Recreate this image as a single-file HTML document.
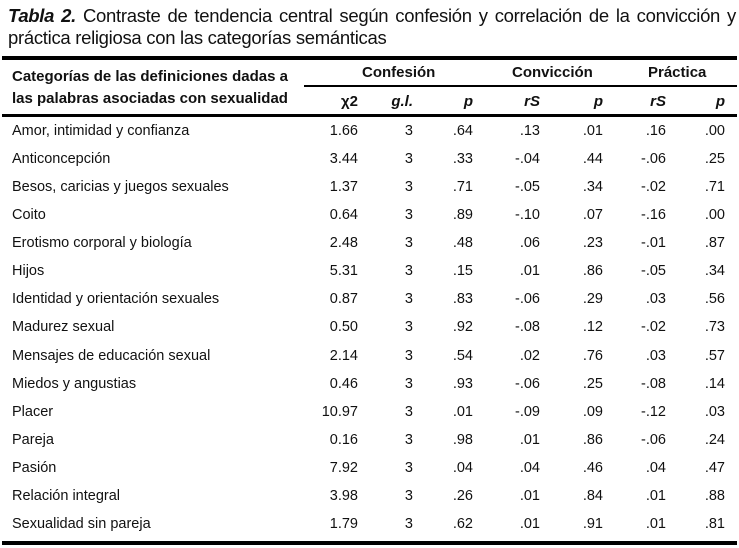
<!DOCTYPE html>
<html><head><meta charset="utf-8"><style>
body{margin:0;width:739px;height:548px;background:#fff;font-family:"Liberation Sans",sans-serif;color:#111;position:relative;overflow:hidden}
.t{position:absolute;left:8px;width:728px;font-size:18.5px;line-height:22px;text-align:justify;text-align-last:left;top:5px;letter-spacing:-0.3px}
.rule{position:absolute;background:#000}
.a{position:absolute;white-space:nowrap;font-size:14.5px;line-height:18px}
.r{text-align:right}
.h{font-weight:bold;font-size:15px}
</style></head><body>
<div class="t"><b><i>Tabla 2.</i></b> Contraste de tendencia central según confesión y correlación de la convicción y práctica religiosa con las categorías semánticas</div>
<div class="rule" style="left:2px;top:56px;width:735px;height:4px"></div>
<div class="rule" style="left:304px;top:85px;width:433px;height:2px"></div>
<div class="rule" style="left:2px;top:114px;width:735px;height:3px"></div>
<div class="rule" style="left:2px;top:541px;width:735px;height:4px"></div>
<div class="a h" style="left:12px;top:68px">Categorías de las definiciones dadas a</div>
<div class="a h" style="left:12px;top:90px">las palabras asociadas con sexualidad</div>
<div class="a h" style="left:362px;top:64px">Confesión</div>
<div class="a h" style="left:512px;top:64px">Convicción</div>
<div class="a h" style="left:648px;top:64px">Práctica</div>
<div id="rows"></div>
<script>
var R=[358,413,473,540,603,666,725];
var H=["χ2","<i>g.l.</i>","<i>p</i>","<i>rS</i>","<i>p</i>","<i>rS</i>","<i>p</i>"];
var s="";
H.forEach(function(h,i){s+='<div class="a h r" style="right:'+(739-R[i])+'px;top:93px">'+h+'</div>';});
var D=[["Amor, intimidad y confianza","1.66","3",".64",".13",".01",".16",".00"],
["Anticoncepción","3.44","3",".33","-.04",".44","-.06",".25"],
["Besos, caricias y juegos sexuales","1.37","3",".71","-.05",".34","-.02",".71"],
["Coito","0.64","3",".89","-.10",".07","-.16",".00"],
["Erotismo corporal y biología","2.48","3",".48",".06",".23","-.01",".87"],
["Hijos","5.31","3",".15",".01",".86","-.05",".34"],
["Identidad y orientación sexuales","0.87","3",".83","-.06",".29",".03",".56"],
["Madurez sexual","0.50","3",".92","-.08",".12","-.02",".73"],
["Mensajes de educación sexual","2.14","3",".54",".02",".76",".03",".57"],
["Miedos y angustias","0.46","3",".93","-.06",".25","-.08",".14"],
["Placer","10.97","3",".01","-.09",".09","-.12",".03"],
["Pareja","0.16","3",".98",".01",".86","-.06",".24"],
["Pasión","7.92","3",".04",".04",".46",".04",".47"],
["Relación integral","3.98","3",".26",".01",".84",".01",".88"],
["Sexualidad sin pareja","1.79","3",".62",".01",".91",".01",".81"]];
D.forEach(function(r,j){var y=122+28.07*j;
s+='<div class="a" style="left:12px;top:'+y+'px">'+r[0]+'</div>';
for(var i=1;i<8;i++)s+='<div class="a r" style="right:'+(739-R[i-1])+'px;top:'+y+'px">'+r[i]+'</div>';});
document.getElementById("rows").innerHTML=s;
</script>
</body></html>
